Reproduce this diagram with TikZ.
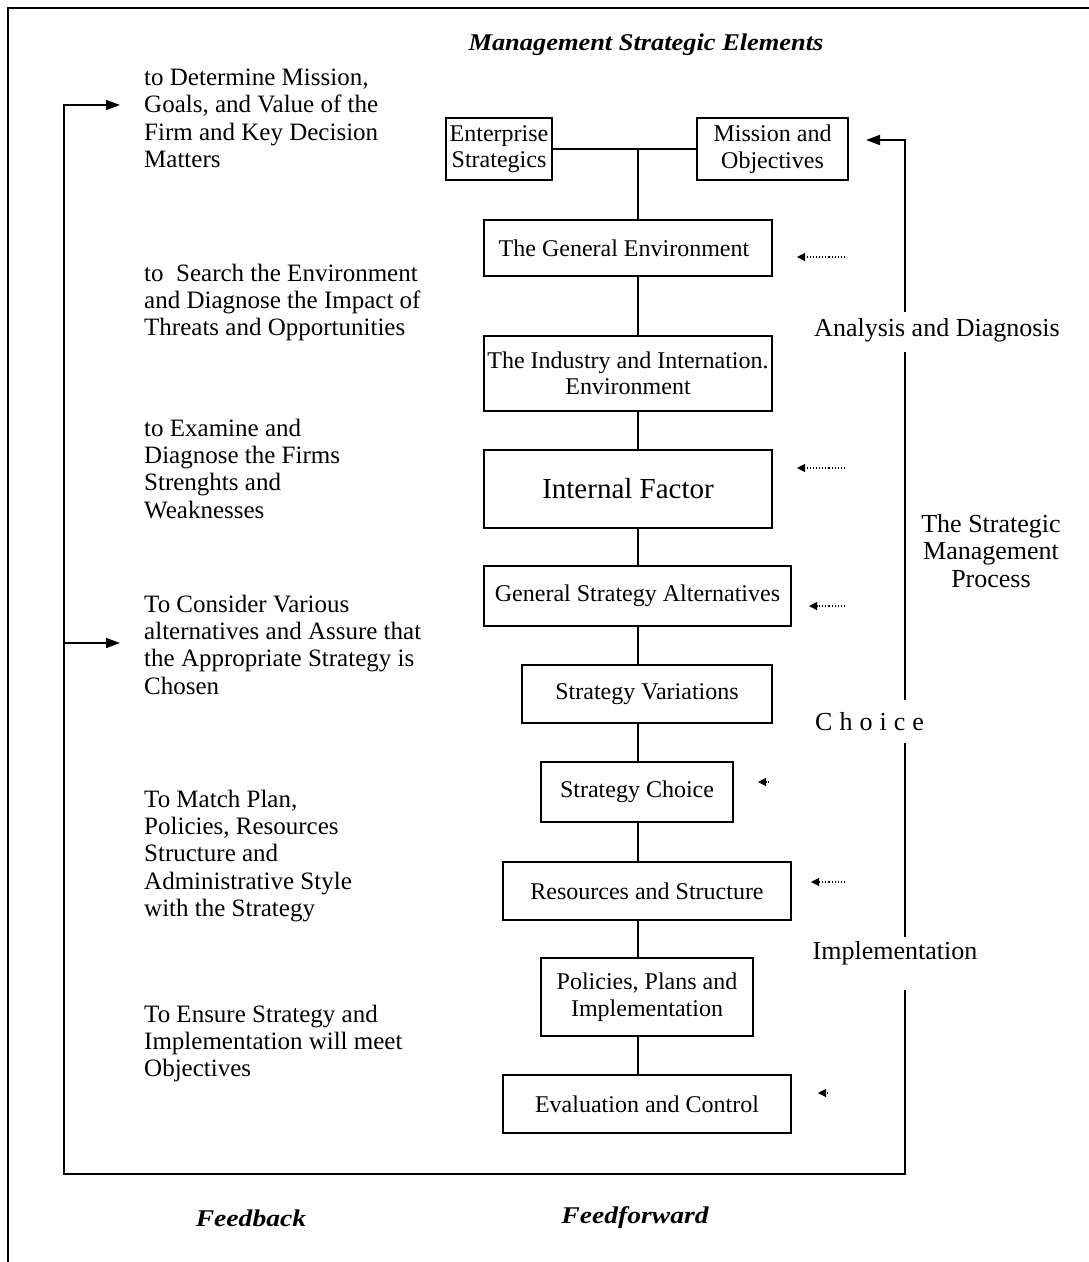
\documentclass[tikz,border=0pt]{standalone}
\usepackage{fontspec}
\setmainfont{Liberation Serif}
\usetikzlibrary{arrows.meta}

\tikzset{
  box/.style={draw, line width=2.6pt, inner sep=0pt, align=center,
              font=\fontsize{24}{26.5}\selectfont},
  bigbox/.style={box, font=\fontsize{29}{32}\selectfont},
  aim/.style={anchor=north west, inner sep=0pt, align=left,
              font=\fontsize{25}{27.2}\selectfont},
  side/.style={inner sep=0pt, align=center, font=\fontsize{26}{27.5}\selectfont},
  heading/.style={inner sep=0pt, font=\fontsize{24}{28}\selectfont\bfseries\itshape},
  spine/.style={line width=1.8pt},
  loopline/.style={line width=1.8pt},
  looparrow/.style={loopline, -{Triangle[length=14pt,width=10pt]}},
  hint/.style={dotted, line width=1.1pt, -{Triangle[length=8pt,width=8pt]}},
  frame/.style={line width=2.2pt}
}

\begin{document}
\begin{tikzpicture}[x=1pt, y=-1pt]
\useasboundingbox (0,0) rectangle (1089,1262);

% page frame
\coordinate (fTR) at (1089,8);
\coordinate (fTL) at (8,8);
\coordinate (fBL) at (8,1262);
\draw[frame] (fTR) -- (fTL) -- (fBL);

% heading
\node[heading] (title) at (646,45) {\scalebox{1.1}[1]{Management Strategic Elements}};

% strategic elements
\node[box, minimum width=106pt, minimum height=62pt] (ent) at (499,149) {Enterprise\\Strategics};
\node[box, minimum width=151pt, minimum height=62pt] (mis) at (772.5,149) {Mission and\\Objectives};
\node[box, minimum width=288pt, minimum height=56pt] (gen) at (628,248) {The General Environment\hspace*{8pt}};
\node[box, minimum width=288pt, minimum height=75pt] (ind) at (628,373.5) {The Industry and Internation.\\Environment};
\node[bigbox, minimum width=288pt, minimum height=78pt] (int) at (628,489) {Internal Factor};
\node[box, minimum width=307pt, minimum height=60pt] (gsa) at (637.5,596) {General Strategy Alternatives};
\node[box, minimum width=250pt, minimum height=58pt] (var) at (647,694) {Strategy Variations};
\node[box, minimum width=192pt, minimum height=60pt] (cho) at (637,792) {Strategy Choice};
\node[box, minimum width=288pt, minimum height=58pt] (res) at (647,891) {Resources and Structure};
\node[box, minimum width=212pt, minimum height=78pt] (pol) at (647,997) {Policies, Plans and\\Implementation};
\node[box, minimum width=288pt, minimum height=58pt] (eva) at (647,1104) {Evaluation and Control};

% vertical spine through the elements
\coordinate (jn) at (638,149);
\draw[spine] (ent.east) -- (mis.west);
\draw[spine] (jn) -- (jn |- gen.north);
\draw[spine] (jn |- gen.south) -- (jn |- ind.north);
\draw[spine] (jn |- ind.south) -- (jn |- int.north);
\draw[spine] (jn |- int.south) -- (jn |- gsa.north);
\draw[spine] (jn |- gsa.south) -- (jn |- var.north);
\draw[spine] (jn |- var.south) -- (jn |- cho.north);
\draw[spine] (jn |- cho.south) -- (jn |- res.north);
\draw[spine] (jn |- res.south) -- (jn |- pol.north);
\draw[spine] (jn |- pol.south) -- (jn |- eva.north);

% aims on the left
\node[aim] (a1) at (144,69) {to Determine Mission,\\Goals, and Value of the\\Firm and Key Decision\\Matters};
\node[aim] (a2) at (144,264) {to\ \ Search the Environment\\and Diagnose the Impact of\\Threats and Opportunities};
\node[aim] (a3) at (144,419) {to Examine and\\Diagnose the Firms\\Strenghts and\\Weaknesses};
\node[aim] (a4) at (144,595) {To Consider Various\\alternatives and Assure that\\the Appropriate Strategy is\\Chosen};
\node[aim] (a5) at (144,790) {To Match Plan,\\Policies, Resources\\Structure and\\Administrative Style\\with the Strategy};
\node[aim] (a6) at (144,1005) {To Ensure Strategy and\\Implementation will meet\\Objectives};

% process labels on the right
\node[side] (ana) at (937,330) {Analysis and Diagnosis};
\node[side] (smp) at (991,551) {The Strategic\\Management\\Process};
\node[side, anchor=west] (choice) at (815,722) {\addfontfeature{LetterSpace=27}Choice};
\node[side] (imp) at (895,953) {Implementation};

% feedback / feedforward loop
\coordinate (lTop) at (64,105);
\coordinate (lTopEnd) at (120,105);
\coordinate (lMid) at (64,643);
\coordinate (lMidEnd) at (120,643);
\coordinate (lBL) at (64,1174);
\coordinate (lBR) at (905,1174);
\coordinate (lTR) at (905,140);
\coordinate (lTREnd) at (866,140);
\coordinate (g1) at (905,312);
\coordinate (g2) at (905,352);
\coordinate (g3) at (905,700);
\coordinate (g4) at (905,743);
\coordinate (g5) at (905,937);
\coordinate (g6) at (905,990);

\draw[looparrow] (g1) -- (lTR) -- (lTREnd);
\draw[loopline] (g2) -- (g3);
\draw[loopline] (g4) -- (g5);
\draw[looparrow] (g6) -- (lBR) -- (lBL) -- (lTop) -- (lTopEnd);
\draw[looparrow] (lMid) -- (lMidEnd);

% dotted hints towards the elements
\coordinate (h1s) at (845,257);  \coordinate (h1e) at (797,257);
\coordinate (h2s) at (845,468);  \coordinate (h2e) at (797,468);
\coordinate (h3s) at (845,606);  \coordinate (h3e) at (809,606);
\coordinate (h4s) at (769,782);  \coordinate (h4e) at (758,782);
\coordinate (h5s) at (845,882);  \coordinate (h5e) at (811,882);
\coordinate (h6s) at (828,1093); \coordinate (h6e) at (818,1093);
\draw[hint] (h1s) -- (h1e);
\draw[hint] (h2s) -- (h2e);
\draw[hint] (h3s) -- (h3e);
\draw[hint] (h4s) -- (h4e);
\draw[hint] (h5s) -- (h5e);
\draw[hint] (h6s) -- (h6e);

% bottom captions
\node[heading] (fb) at (251,1218) {\scalebox{1.15}[1]{Feedback}};
\node[heading] (ff) at (635,1218) {\scalebox{1.15}[1]{Feedforward}};
\end{tikzpicture}
\end{document}
